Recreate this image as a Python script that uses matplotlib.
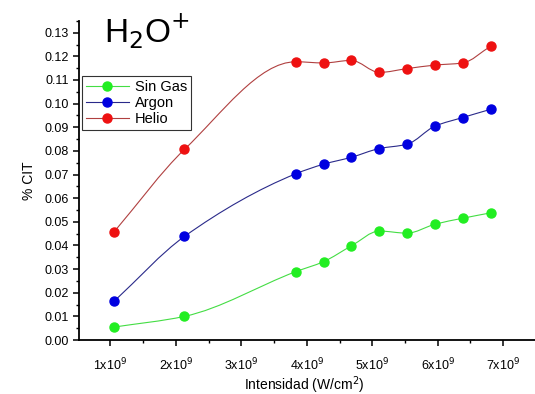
import matplotlib.pyplot as plt
import numpy as np
from matplotlib.path import Path
from matplotlib.patches import PathPatch
from matplotlib.ticker import MultipleLocator, FuncFormatter

plt.rcParams['font.family'] = ['Liberation Sans', 'DejaVu Sans']

# Intensity (W/cm^2) and % CIT for each gas
intensidad = [1.06e9, 2.13e9, 3.83e9, 4.26e9, 4.68e9, 5.11e9, 5.53e9, 5.96e9, 6.38e9, 6.81e9]
sin_gas = [0.0055, 0.0100, 0.0289, 0.0332, 0.0398, 0.0461, 0.0452, 0.0490, 0.0515, 0.0538]
argon = [0.0165, 0.0438, 0.0703, 0.0744, 0.0773, 0.0810, 0.0828, 0.0905, 0.0941, 0.0976]
helio = [0.0459, 0.0806, 0.1177, 0.1172, 0.1183, 0.1132, 0.1148, 0.1163, 0.1172, 0.1243]

series = [
    ("Sin Gas", sin_gas, "#22ee22", "#44dd44"),
    ("Argon", argon, "#0000e0", "#2a2a8a"),
    ("Helio", helio, "#ee1111", "#b04040"),
]

# monotone cubic (Fritsch-Carlson) through the points, drawn as Bezier segments
def smooth_path(x, y):
    x = np.asarray(x, float)
    y = np.asarray(y, float)
    h = np.diff(x)
    d = np.diff(y) / h
    m = np.zeros_like(y)
    m[0], m[-1] = d[0], d[-1]
    for i in range(1, len(x) - 1):
        if d[i - 1] * d[i] > 0:
            w1 = 2 * h[i] + h[i - 1]
            w2 = h[i] + 2 * h[i - 1]
            m[i] = (w1 + w2) / (w1 / d[i - 1] + w2 / d[i])
    verts = [(x[0], y[0])]
    codes = [Path.MOVETO]
    for i in range(len(x) - 1):
        verts += [(x[i] + h[i] / 3, y[i] + m[i] * h[i] / 3),
                  (x[i + 1] - h[i] / 3, y[i + 1] - m[i + 1] * h[i] / 3),
                  (x[i + 1], y[i + 1])]
        codes += [Path.CURVE4] * 3
    return Path(verts, codes)

fig = plt.figure(figsize=(5.35, 3.94), dpi=100)
ax = fig.add_axes([0.1477, 0.137, 0.86, 0.81])
ax.set_xlim(0.52e9, 7.55e9)
ax.set_ylim(0.0, 0.135)

for name, vals, mcol, lcol in series:
    ax.add_patch(PathPatch(smooth_path(intensidad, vals), facecolor='none',
                           edgecolor=lcol, lw=0.8, zorder=2))
    ax.plot(intensidad, vals, linestyle='none', marker='o', markersize=6.5,
            color=mcol, zorder=3)
    ax.plot([], [], color=lcol, lw=0.8, marker='o', markersize=6.5,
            markerfacecolor=mcol, markeredgecolor=mcol, label=name)

ax.spines['top'].set_visible(False)
ax.spines['right'].set_visible(False)
ax.spines['left'].set_linewidth(1.3)
ax.spines['bottom'].set_linewidth(1.3)

ax.xaxis.set_major_locator(MultipleLocator(1e9))
ax.xaxis.set_minor_locator(MultipleLocator(0.5e9))
ax.yaxis.set_major_locator(MultipleLocator(0.01))
ax.yaxis.set_minor_locator(MultipleLocator(0.005))
ax.xaxis.set_major_formatter(FuncFormatter(lambda v, p: r"%dx10$^{9}$" % round(v / 1e9)))
ax.yaxis.set_major_formatter(FuncFormatter(lambda v, p: "%.2f" % v))
ax.tick_params(which='major', direction='out', length=4, width=1.1, labelsize=9)
ax.tick_params(axis='x', which='major', pad=8)
ax.tick_params(which='minor', direction='out', length=2.5, width=1.0)

ax.set_xlabel(r"Intensidad (W/cm$^{2}$)", fontsize=10)
ax.xaxis.set_label_coords(0.49, -0.14)
ax.xaxis.label.set_verticalalignment('center')
ax.set_ylabel("% CIT", fontsize=10, labelpad=6)

fig.text(0.195, 0.89, r"H$_{2}$O$^{+}$", fontsize=24)

leg = ax.legend(loc='upper left', bbox_to_anchor=(0.0, 0.835), fontsize=10.5,
                frameon=True, fancybox=False, edgecolor='black', handlelength=3.0,
                borderpad=0.25, labelspacing=0.15, handletextpad=0.4, borderaxespad=0.2)
leg.get_frame().set_linewidth(0.8)

plt.savefig("out.png", dpi=100)
